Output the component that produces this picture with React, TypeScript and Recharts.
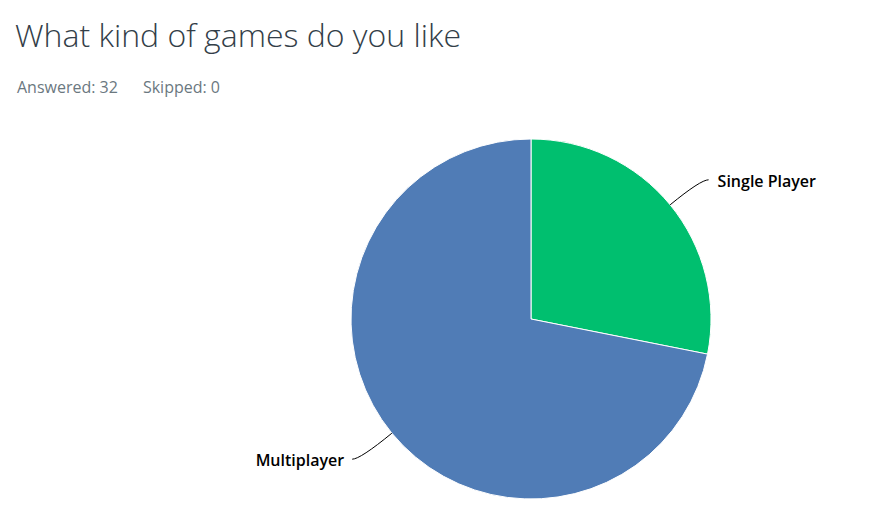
import React from "react";
import { PieChart, Pie, Cell } from "recharts";

// 설문 응답 (총 32명)
const categories = ["Single Player", "Multiplayer"];
const responses = [9, 23];
const colors = ["#00bf6f", "#507cb6"];

const answered = 32;
const skipped = 0;

const chartData = categories.map((name, i) => ({ name, value: responses[i] }));

const RADIAN = Math.PI / 180;

/** 곡선 리더선 + 라벨 */
function renderLabel(props: any) {
  const { cx, cy, midAngle, outerRadius, name } = props;
  const cos = Math.cos(-midAngle * RADIAN);
  const sin = Math.sin(-midAngle * RADIAN);
  const sx = cx + outerRadius * cos;
  const sy = cy + outerRadius * sin;
  const dy = sin < 0 ? -25 : 26;
  const t = dy / sin;
  const mx = sx + t * cos;
  const my = sy + dy;
  const dir = cos >= 0 ? 1 : -1;
  const ex = mx + dir * 8;
  return (
    <g>
      <path
        d={`M${sx},${sy} Q${mx},${my} ${ex},${my}`}
        stroke="#000"
        strokeWidth={1}
        fill="none"
      />
      <text
        x={ex + dir * (dir > 0 ? 9 : 8)}
        y={my + 1}
        textAnchor={dir > 0 ? "start" : "end"}
        dominantBaseline="central"
        fill="#000"
        style={{ fontFamily: "'Open Sans', sans-serif", fontSize: 16, fontWeight: 600 }}
      >
        {name}
      </text>
    </g>
  );
}

export default function App() {
  return (
    <div
      style={{
        position: "absolute",
        left: 0,
        top: 0,
        width: 892,
        height: 520,
        background: "#fff",
        fontFamily: "'Open Sans', sans-serif",
      }}
    >
      <div
        style={{
          position: "absolute",
          left: 15,
          top: 13,
          fontSize: 32,
          fontWeight: 300,
          color: "#333e48",
          whiteSpace: "nowrap",
        }}
      >
        What kind of games do you like
      </div>
      <div
        style={{
          position: "absolute",
          left: 17,
          top: 76,
          fontSize: 16,
          color: "#6b787f",
          whiteSpace: "nowrap",
        }}
      >
        Answered: {answered}
        <span style={{ marginLeft: 25 }}>Skipped: {skipped}</span>
      </div>
      <div style={{ position: "absolute", left: 0, top: 0 }}>
        <PieChart width={892} height={520} margin={{ top: 0, right: 0, bottom: 0, left: 0 }}>
          <Pie
            data={chartData}
            dataKey="value"
            nameKey="name"
            cx={531}
            cy={319}
            outerRadius={180}
            startAngle={90}
            endAngle={-270}
            stroke="#fff"
            strokeWidth={1}
            label={renderLabel}
            labelLine={false}
            isAnimationActive={false}
          >
            {chartData.map((d, i) => (
              <Cell key={d.name} fill={colors[i]} />
            ))}
          </Pie>
        </PieChart>
      </div>
    </div>
  );
}
